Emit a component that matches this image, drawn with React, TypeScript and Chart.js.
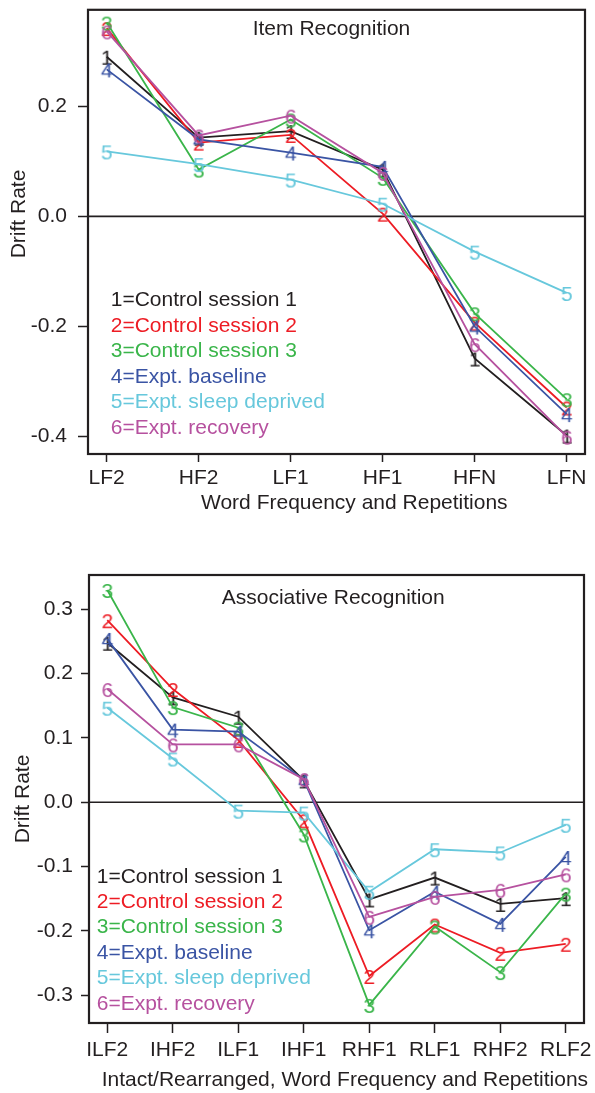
import React, { useEffect, useRef } from 'react';
import { Chart, registerables } from 'chart.js';

Chart.register(...registerables);

const FONT = '"Liberation Sans", Arial, Helvetica, sans-serif';
const FS = 21;
const TEXT = '#231f20';

// Series shared by both panels
const seriesNames = [
  'Control session 1',
  'Control session 2',
  'Control session 3',
  'Expt. baseline',
  'Expt. sleep deprived',
  'Expt. recovery',
];
const seriesColors = ['#231f20', '#ed1c24', '#3ab54a', '#3a54a4', '#67c8dc', '#b6519f'];

// Panel 1: Item Recognition
const itemCategories = ['LF2', 'HF2', 'LF1', 'HF1', 'HFN', 'LFN'];
const itemControl1 = [0.29, 0.143, 0.155, 0.085, -0.258, -0.398];
const itemControl2 = [0.342, 0.134, 0.148, 0.005, -0.193, -0.347];
const itemControl3 = [0.352, 0.085, 0.176, 0.07, -0.176, -0.332];
const itemBaseline = [0.267, 0.14, 0.116, 0.09, -0.2, -0.359];
const itemSleepDeprived = [0.118, 0.095, 0.067, 0.023, -0.064, -0.139];
const itemRecovery = [0.336, 0.147, 0.183, 0.079, -0.232, -0.4];
const itemYTicks = [0.2, 0.0, -0.2, -0.4];

// Panel 2: Associative Recognition
const assocCategories = ['ILF2', 'IHF2', 'ILF1', 'IHF1', 'RHF1', 'RLF1', 'RHF2', 'RLF2'];
const assocControl1 = [0.248, 0.163, 0.133, 0.034, -0.151, -0.117, -0.158, -0.149];
const assocControl2 = [0.283, 0.176, 0.097, -0.028, -0.27, -0.19, -0.234, -0.22];
const assocControl3 = [0.33, 0.148, 0.116, -0.05, -0.315, -0.193, -0.264, -0.142];
const assocBaseline = [0.254, 0.113, 0.11, 0.035, -0.199, -0.139, -0.189, -0.085];
const assocSleepDeprived = [0.147, 0.068, -0.013, -0.016, -0.139, -0.073, -0.078, -0.035];
const assocRecovery = [0.176, 0.09, 0.09, 0.036, -0.178, -0.147, -0.136, -0.112];
const assocYTicks = [0.3, 0.2, 0.1, 0.0, -0.1, -0.2, -0.3];

function digitCanvas(d: string, color: string) {
  const c = document.createElement('canvas');
  c.width = 16;
  c.height = 24;
  const ctx = c.getContext('2d')!;
  ctx.font = `${FS}px ${FONT}`;
  ctx.fillStyle = color;
  ctx.textAlign = 'center';
  ctx.textBaseline = 'alphabetic';
  ctx.fillText(d, 8, 12 + 0.358 * FS);
  return c;
}

const decorPlugin = {
  id: 'decor',
  beforeDatasetsDraw(chart: any) {
    const { ctx, chartArea: a } = chart;
    const y0 = chart.scales.y.getPixelForValue(0);
    ctx.save();
    ctx.strokeStyle = TEXT;
    ctx.lineWidth = 1.6;
    ctx.beginPath();
    ctx.moveTo(a.left, y0);
    ctx.lineTo(a.right, y0);
    ctx.stroke();
    ctx.restore();
  },
  afterDraw(chart: any, _args: any, o: any) {
    const { ctx, chartArea: a } = chart;
    ctx.save();
    ctx.strokeStyle = TEXT;
    ctx.lineWidth = 2.2;
    ctx.strokeRect(a.left, a.top, a.right - a.left, a.bottom - a.top);
    ctx.font = `${FS}px ${FONT}`;
    ctx.textBaseline = 'middle';
    ctx.fillStyle = TEXT;
    ctx.textAlign = 'left';
    ctx.fillText(o.title, o.titleX, o.titleY);
    ctx.fillText(o.xTitle, o.xTitleX, o.xTitleY);
    ctx.save();
    ctx.translate(o.yTitleX, o.yTitleY);
    ctx.rotate(-Math.PI / 2);
    ctx.textAlign = 'center';
    ctx.fillText(o.yTitle, 0, 0);
    ctx.restore();
    seriesNames.forEach((n, i) => {
      ctx.fillStyle = seriesColors[i];
      ctx.textAlign = 'left';
      ctx.fillText(`${i + 1}=${n}`, o.legendX, o.legendY + i * o.legendStep);
    });
    ctx.restore();
  },
};

type Spec = {
  categories: string[];
  series: number[][];
  yTicks: number[];
  yMin: number;
  yMax: number;
  xMin: number;
  xMax: number;
  area: { left: number; top: number; right: number; bottom: number };
  height: number;
  yTickLen: number;
  yTickPad: number;
  xTickLen: number;
  xTickPad: number;
  decor: any;
};

function buildConfig(spec: Spec): any {
  const font = { family: FONT, size: FS };
  return {
    type: 'line',
    data: {
      datasets: spec.series.map((vals, i) => ({
        label: seriesNames[i],
        data: vals.map((v, j) => ({ x: j, y: v })),
        borderColor: seriesColors[i],
        backgroundColor: seriesColors[i],
        borderWidth: 1.8,
        pointStyle: digitCanvas(String(i + 1), seriesColors[i]),
        pointRadius: 8,
        pointHoverRadius: 8,
        tension: 0,
        order: 6 - i,
        clip: false,
      })),
    },
    options: {
      animation: false,
      responsive: false,
      events: [],
      layout: {
        padding: { left: 0, top: spec.area.top, right: 595 - spec.area.right, bottom: 0 },
      },
      plugins: {
        legend: { display: false },
        tooltip: { enabled: false },
        decor: spec.decor,
      },
      scales: {
        x: {
          type: 'linear',
          min: spec.xMin,
          max: spec.xMax,
          bounds: 'data',
          afterBuildTicks: (s: any) => {
            s.ticks = spec.categories.map((_, i) => ({ value: i }));
          },
          afterFit: (s: any) => {
            s.height = spec.height - spec.area.bottom;
            s.paddingLeft = 0;
            s.paddingRight = 0;
          },
          ticks: {
            callback: (v: any) => spec.categories[Math.round(Number(v))] ?? '',
            font,
            color: TEXT,
            padding: spec.xTickPad,
            maxRotation: 0,
            autoSkip: false,
          },
          grid: {
            drawOnChartArea: false,
            drawTicks: true,
            tickLength: spec.xTickLen,
            tickWidth: 1.5,
            tickColor: TEXT,
            color: TEXT,
          },
          border: { display: false },
        },
        y: {
          type: 'linear',
          min: spec.yMin,
          max: spec.yMax,
          bounds: 'data',
          afterBuildTicks: (s: any) => {
            s.ticks = spec.yTicks.map((v) => ({ value: v }));
          },
          afterFit: (s: any) => {
            s.width = spec.area.left;
            s.paddingTop = 0;
            s.paddingBottom = 0;
          },
          ticks: {
            callback: (v: any) => Number(v).toFixed(1),
            font,
            color: TEXT,
            padding: spec.yTickPad,
            autoSkip: false,
          },
          grid: {
            drawOnChartArea: false,
            drawTicks: true,
            tickLength: spec.yTickLen,
            tickWidth: 1.5,
            tickColor: TEXT,
            color: TEXT,
          },
          border: { display: false },
        },
      },
    },
    plugins: [decorPlugin],
  };
}

const itemSpec: Spec = {
  categories: itemCategories,
  series: [itemControl1, itemControl2, itemControl3, itemBaseline, itemSleepDeprived, itemRecovery],
  yTicks: itemYTicks,
  yMin: -0.4315,
  yMax: 0.3752,
  xMin: -0.203,
  xMax: 5.199,
  area: { left: 88, top: 6, right: 585, bottom: 454 },
  height: 545,
  yTickLen: 10,
  yTickPad: 11,
  xTickLen: 8,
  xTickPad: 4,
  decor: {
    title: 'Item Recognition',
    titleX: 252.7,
    titleY: 29.2,
    xTitle: 'Word Frequency and Repetitions',
    xTitleX: 201,
    xTitleY: 503.7,
    yTitle: 'Drift Rate',
    yTitleX: 19.5,
    yTitleY: 214,
    legendX: 110.7,
    legendY: 300.5,
    legendStep: 25.5,
  },
};

const assocSpec: Spec = {
  categories: assocCategories,
  series: [assocControl1, assocControl2, assocControl3, assocBaseline, assocSleepDeprived, assocRecovery],
  yTicks: assocYTicks,
  yMin: -0.3431,
  yMax: 0.3533,
  xMin: -0.279,
  xMax: 7.279,
  area: { left: 89, top: 30, right: 584, bottom: 478 },
  height: 548,
  yTickLen: 8,
  yTickPad: 8,
  xTickLen: 10,
  xTickPad: 5,
  decor: {
    title: 'Associative Recognition',
    titleX: 221.7,
    titleY: 52.8,
    xTitle: 'Intact/Rearranged, Word Frequency and Repetitions',
    xTitleX: 101.7,
    xTitleY: 535,
    yTitle: 'Drift Rate',
    yTitleX: 23,
    yTitleY: 254,
    legendX: 96.7,
    legendY: 331.8,
    legendStep: 25.4,
  },
};

function DriftChart({ spec }: { spec: Spec }) {
  const ref = useRef<HTMLCanvasElement>(null);
  useEffect(() => {
    const chart = new Chart(ref.current!, buildConfig(spec));
    return () => chart.destroy();
  }, [spec]);
  return (
    <canvas
      ref={ref}
      width={595}
      height={spec.height}
      style={{ display: 'block', width: 595, height: spec.height }}
    />
  );
}

export default function App() {
  return (
    <div style={{ position: 'absolute', left: 0, top: 0, width: 595, height: 1093, background: '#fff' }}>
      <DriftChart spec={itemSpec} />
      <DriftChart spec={assocSpec} />
    </div>
  );
}
